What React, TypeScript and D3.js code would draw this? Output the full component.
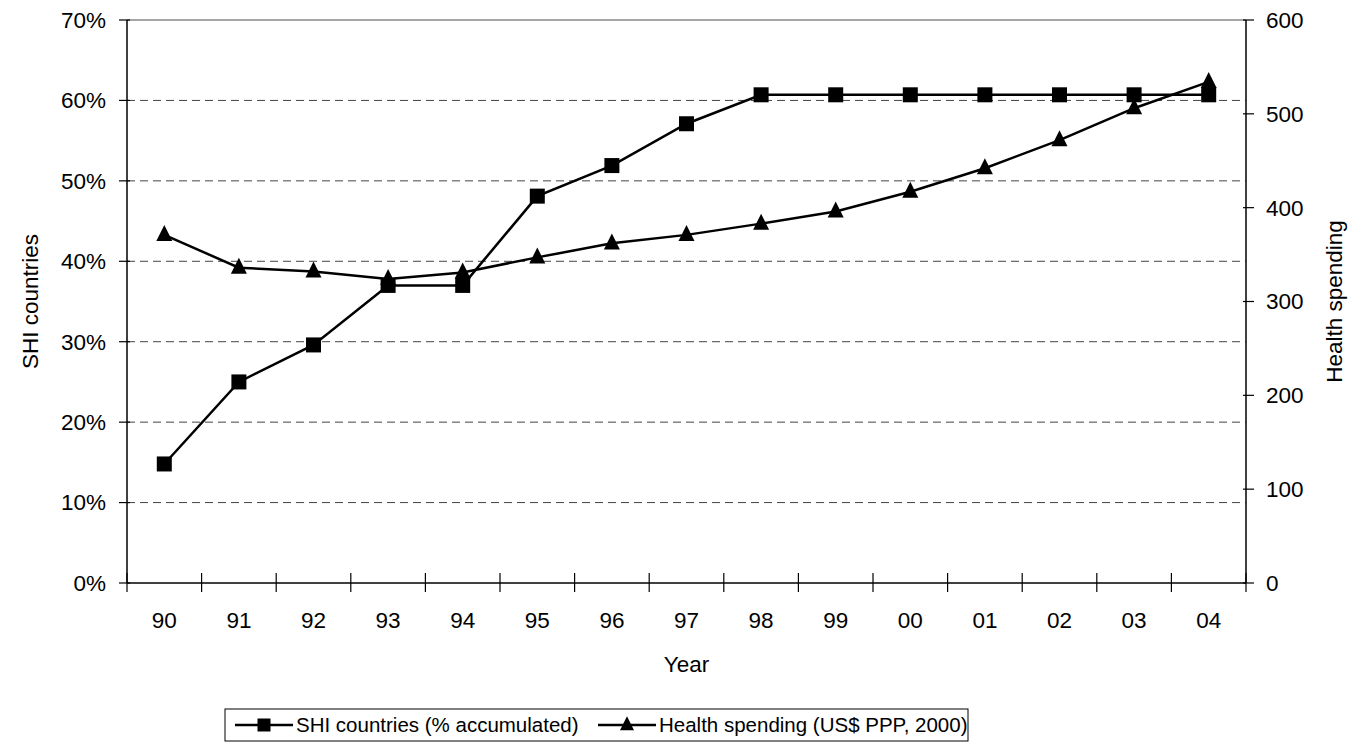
import React from "react";
import * as d3 from "d3";

const years = ["90", "91", "92", "93", "94", "95", "96", "97", "98", "99", "00", "01", "02", "03", "04"];
const shiShare = [14.8, 25.0, 29.6, 37.0, 37.0, 48.1, 51.9, 57.1, 60.7, 60.7, 60.7, 60.7, 60.7, 60.7, 60.7];
const healthSpending = [371, 336, 332, 324, 331, 347, 362, 371, 383, 396, 417, 442, 472, 506, 534];
const leftTicks = [0, 10, 20, 30, 40, 50, 60, 70];
const rightTicks = [0, 100, 200, 300, 400, 500, 600];
const seriesNames = ["SHI countries (% accumulated)", "Health spending (US$ PPP, 2000)"];

const W = 1354;
const H = 751;
const M = { left: 127, right: 1246, top: 20, bottom: 583 };
const FONT = "'Liberation Sans', Arial, sans-serif";
const FS = 22.5;
const LFS = 20.5;

export default function App() {
  const x = d3.scaleBand<string>().domain(years).range([M.left, M.right]).padding(0);
  const yL = d3.scaleLinear().domain([0, 70]).range([M.bottom, M.top]);
  const yR = d3.scaleLinear().domain([0, 600]).range([M.bottom, M.top]);
  const cx = (d: string) => (x(d) as number) + x.bandwidth() / 2;

  const lineL = d3.line<number>().x((_, i) => cx(years[i])).y((d) => yL(d));
  const lineR = d3.line<number>().x((_, i) => cx(years[i])).y((d) => yR(d));

  const sq = 15;
  const tri = (cxv: number, cyv: number, s = 16) =>
    `M${cxv},${cyv - s * 0.62} L${cxv + s / 2},${cyv + s * 0.38} L${cxv - s / 2},${cyv + s * 0.38} Z`;

  const boundaries = years.map((d) => x(d) as number).concat([M.right]);

  const lgY = 725;
  return (
    <svg width={W} height={H} style={{ position: "absolute", left: 0, top: 0, background: "#fff" }} fontFamily={FONT}>
      {leftTicks.filter((t) => t > 0 && t < 70).map((t) => (
        <line key={t} x1={M.left} x2={M.right} y1={yL(t)} y2={yL(t)} stroke="#444" strokeWidth={1} strokeDasharray="8,5" />
      ))}
      <line x1={M.left} x2={M.right} y1={M.top} y2={M.top} stroke="#888" strokeWidth={1.5} />
      <line x1={M.left} x2={M.left} y1={M.top} y2={M.bottom} stroke="#000" strokeWidth={1.5} />
      <line x1={M.right} x2={M.right} y1={M.top} y2={M.bottom} stroke="#000" strokeWidth={1.5} />
      <line x1={M.left} x2={M.right} y1={M.bottom} y2={M.bottom} stroke="#000" strokeWidth={1.5} />
      {leftTicks.map((t) => (
        <g key={t}>
          <line x1={M.left - 8} x2={M.left + 3} y1={yL(t)} y2={yL(t)} stroke="#000" strokeWidth={1.2} />
          <text x={M.left - 21} y={yL(t)} dy="0.35em" textAnchor="end" fontSize={FS}>{t}%</text>
        </g>
      ))}
      {rightTicks.map((t) => (
        <g key={t}>
          <line x1={M.right - 3} x2={M.right + 8} y1={yR(t)} y2={yR(t)} stroke="#000" strokeWidth={1.2} />
          <text x={M.right + 20} y={yR(t)} dy="0.35em" textAnchor="start" fontSize={FS}>{t}</text>
        </g>
      ))}
      {boundaries.map((b, i) => (
        <line key={i} x1={b} x2={b} y1={M.bottom - 10} y2={M.bottom + 9} stroke="#000" strokeWidth={1.2} />
      ))}
      {years.map((d) => (
        <text key={d} x={cx(d)} y={620} dy="0.35em" textAnchor="middle" fontSize={FS}>{d}</text>
      ))}
      <text x={(M.left + M.right) / 2} y={664} dy="0.35em" textAnchor="middle" fontSize={FS}>Year</text>
      <text transform={`translate(30,${(M.top + M.bottom) / 2}) rotate(-90)`} dy="0.35em" textAnchor="middle" fontSize={FS}>SHI countries</text>
      <text transform={`translate(1334,${(M.top + M.bottom) / 2}) rotate(-90)`} dy="0.35em" textAnchor="middle" fontSize={FS}>Health spending</text>

      <path d={lineL(shiShare) as string} fill="none" stroke="#000" strokeWidth={2.5} />
      {shiShare.map((v, i) => (
        <rect key={i} x={cx(years[i]) - sq / 2} y={yL(v) - sq / 2} width={sq} height={sq} fill="#000" />
      ))}
      <path d={lineR(healthSpending) as string} fill="none" stroke="#000" strokeWidth={2.5} />
      {healthSpending.map((v, i) => (
        <path key={i} d={tri(cx(years[i]), yR(v))} fill="#000" />
      ))}

      <rect x={225} y={709} width={743} height={32} fill="#fff" stroke="#000" strokeWidth={1} />
      <line x1={235} x2={293} y1={lgY} y2={lgY} stroke="#000" strokeWidth={2.5} />
      <rect x={264 - 6.5} y={lgY - 6.5} width={13} height={13} fill="#000" />
      <text x={296} y={lgY} dy="0.35em" fontSize={LFS}>{seriesNames[0]}</text>
      <line x1={598} x2={656} y1={lgY} y2={lgY} stroke="#000" strokeWidth={2.5} />
      <path d={tri(627, lgY, 14)} fill="#000" />
      <text x={659} y={lgY} dy="0.35em" fontSize={LFS}>{seriesNames[1]}</text>
    </svg>
  );
}
